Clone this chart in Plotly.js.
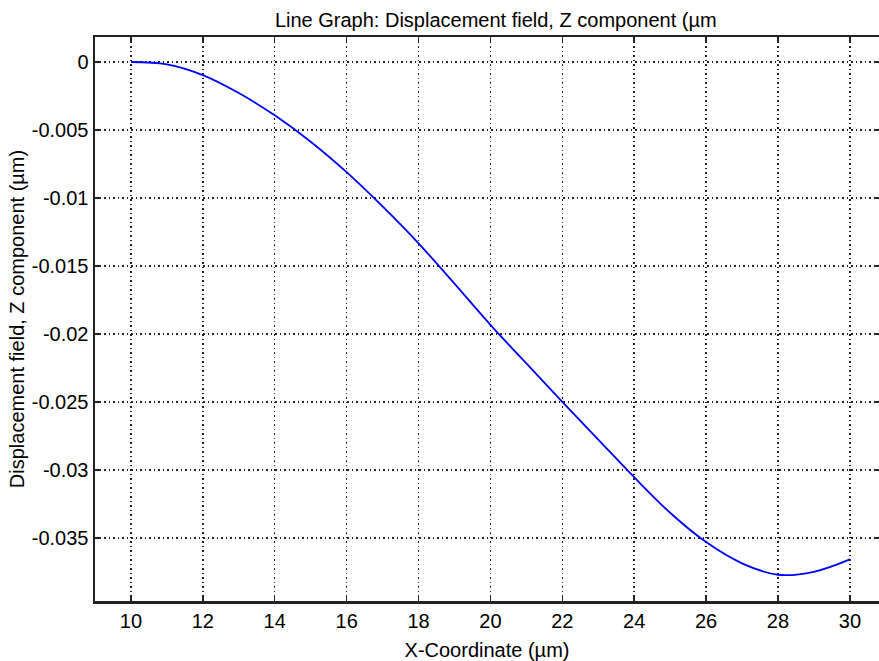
<!DOCTYPE html>
<html>
<head>
<meta charset="utf-8">
<script src="https://cdn.plot.ly/plotly-3.0.1.min.js"></script>
<style>html,body{margin:0;padding:0;background:#fff;}#chart{width:879px;height:661px;}</style>
</head>
<body>
<div id="chart"></div>
<script>
const xCoord = [10, 11, 12, 13, 14, 15, 16, 17, 18, 19, 20, 21, 22, 23, 24, 25, 26, 27, 28, 29, 30];
const dispZ = [0, -0.00017, -0.00096, -0.00228, -0.00392, -0.00586, -0.00810, -0.01062, -0.01333, -0.01630, -0.01932, -0.02216, -0.02498, -0.02776, -0.03053, -0.03314, -0.03530, -0.03686, -0.03770, -0.03748, -0.03657];
const xTicks = [10, 12, 14, 16, 18, 20, 22, 24, 26, 28, 30];
const yTicks = [0, -0.005, -0.01, -0.015, -0.02, -0.025, -0.03, -0.035];
const yTickText = ['0', '-0.005', '-0.01', '-0.015', '-0.02', '-0.025', '-0.03', '-0.035'];

const font = {family: 'Liberation Sans, Arial, sans-serif', size: 20, color: '#000'};
const trace = {
  x: xCoord, y: dispZ, type: 'scatter', mode: 'lines',
  line: {color: '#0000ff', width: 1.8, shape: 'spline', smoothing: 1}
};
const layout = {
  width: 879, height: 661,
  margin: {l: 95, r: 0, t: 37, b: 60},
  paper_bgcolor: '#fff', plot_bgcolor: '#fff',
  font: font,
  showlegend: false,
  title: {text: 'Line Graph: Displacement field, Z component (µm', x: 0.564, xanchor: 'center', yref: 'container', y: 0.969, yanchor: 'middle', font: font},
  xaxis: {
    range: [9.0, 30.81], tickvals: xTicks, ticktext: xTicks.map(String),
    showline: true, linecolor: '#222', linewidth: 2.5, mirror: 'ticks',
    ticks: 'inside', ticklen: 5, tickcolor: '#222', tickwidth: 1.5,
    showgrid: true, gridcolor: '#222', griddash: '1.5px,3px', gridwidth: 1.5,
    zeroline: false, tickfont: font,
    title: {text: 'X-Coordinate (µm)', font: font, standoff: 14}
  },
  yaxis: {
    range: [-0.03963, 0.00184], tickvals: yTicks, ticktext: yTickText,
    showline: true, linecolor: '#222', linewidth: 2.5, mirror: 'ticks',
    ticks: 'inside', ticklen: 5, tickcolor: '#222', tickwidth: 1.5,
    showgrid: true, gridcolor: '#222', griddash: '1.5px,3px', gridwidth: 1.5,
    zeroline: false, tickfont: font,
    title: {text: 'Displacement field, Z component (µm)', font: font, standoff: 2}
  }
};
Plotly.newPlot('chart', [trace], layout, {displayModeBar: false, staticPlot: true});
</script>
</body>
</html>
